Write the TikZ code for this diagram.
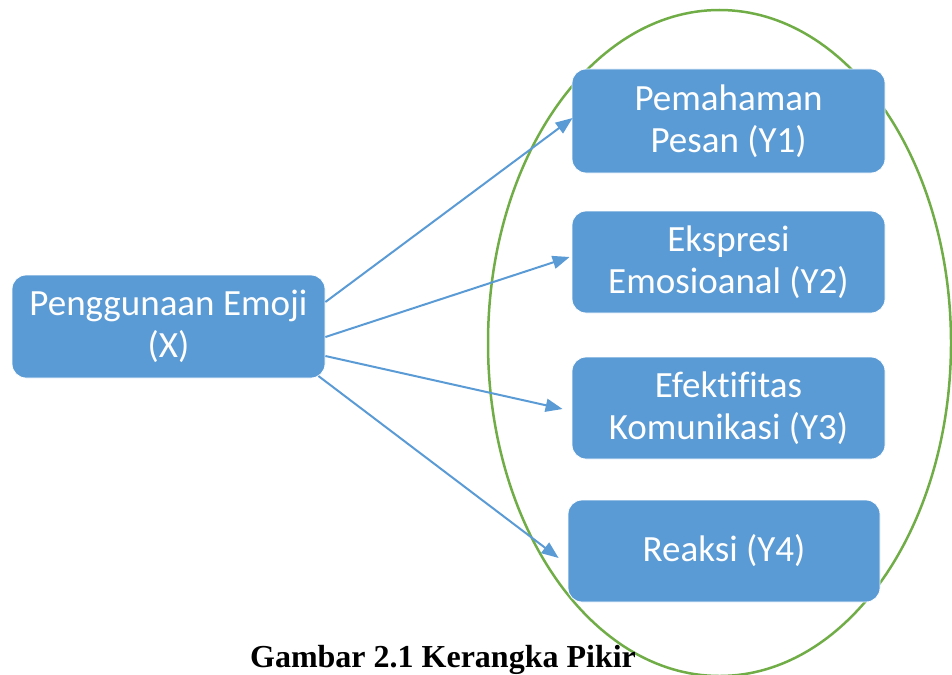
\documentclass[tikz,border=0pt]{standalone}
\usepackage{fontspec}
\setmainfont{Carlito}[Ligatures=NoCommon]
\newfontfamily\capfont{Liberation Serif}
\usetikzlibrary{arrows.meta}
\definecolor{boxblue}{HTML}{5B9BD5}
\definecolor{ringgreen}{HTML}{70AD47}
\tikzset{
  vbox/.style={draw=white, line width=0.8pt, fill=boxblue, rounded corners=14pt, text=white,
    align=center, inner sep=0pt, font=\fontsize{37}{42}\selectfont},
  link/.style={draw=boxblue, line width=2pt, -{Triangle[length=17pt,width=13pt]}},
  ring/.style={draw=ringgreen, line width=2.5pt}
}
\begin{document}
\begin{tikzpicture}[x=1pt,y=-1pt]
\useasboundingbox (0,0) rectangle (952,674);
\draw[ring] (719.5,343) ellipse [x radius=231.5pt, y radius=333pt];
\node[vbox, minimum width=313pt, minimum height=103pt] (X) at (168.5,326.5) {Penggunaan Emoji\\(X)};
\node[vbox, minimum width=313pt, minimum height=104pt] (Y1) at (728.5,121) {Pemahaman\\Pesan (Y1)};
\node[vbox, minimum width=313pt, minimum height=102pt] (Y2) at (728.5,262) {Ekspresi\\Emosioanal (Y2)};
\node[vbox, minimum width=313pt, minimum height=102pt] (Y3) at (728.5,408) {Efektifitas\\Komunikasi (Y3)};
\node[vbox, minimum width=312pt, minimum height=102pt] (Y4) at (724,551) {Reaksi (Y4)};
\draw[link] ([yshift=24.5pt]X.east) -- ([yshift=3pt,xshift=1pt]Y1.west);
\draw[link] ([yshift=-10.5pt]X.east) -- ([yshift=5pt,xshift=-2pt]Y2.west);
\draw[link] ([yshift=-29.5pt]X.east) -- ([xshift=-9pt,yshift=-1pt]Y3.west);
\draw[link] ([xshift=-7pt,yshift=-49.5pt]X.east) -- ([xshift=-9pt,yshift=-7pt]Y4.west);
\node[font=\capfont\bfseries\fontsize{32}{36}\selectfont, anchor=base, inner sep=0pt] (cap) at (443,667) {Gambar 2.1 Kerangka Pikir};
\end{tikzpicture}
\end{document}
